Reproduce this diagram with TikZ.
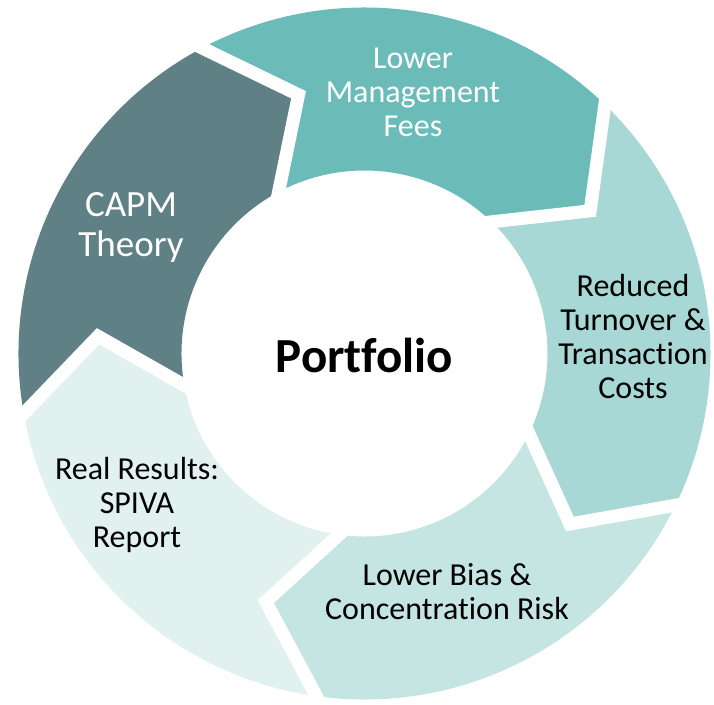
\documentclass[tikz,border=0pt]{standalone}
\usepackage{fontspec}
\setmainfont{Carlito}[Ligatures=NoCommon]
\usetikzlibrary{calc}
\definecolor{cCapm}{HTML}{5F8085}
\definecolor{cFees}{HTML}{6BBCB8}
\definecolor{cTurn}{HTML}{A7D8D5}
\definecolor{cBias}{HTML}{C5E5E3}
\definecolor{cSpiva}{HTML}{E1F1F0}
\newcommand\Rout{346}
\newcommand\Rin{183}
\newcommand\Rmid{267}
\newcommand\aOff{13.7}
\newcommand\ringseg[3]{%
  \fill[#3] (#1:\Rout pt) arc[start angle=#1, end angle=#2, radius=\Rout pt]
    -- ({#2-\aOff}:\Rmid pt) -- (#2:\Rin pt)
    arc[start angle=#2, end angle=#1, radius=\Rin pt]
    -- ({#1-\aOff}:\Rmid pt) -- cycle;}
\newcommand\gapcut[2]{%
  \coordinate (#2O) at (#1:\Rout pt);
  \coordinate (#2T) at ({#1-\aOff}:\Rmid pt);
  \coordinate (#2I) at (#1:\Rin pt);
  \draw[gapstyle] ($(#2O)!-0.25!(#2T)$) -- (#2T) -- ($(#2I)!-0.3!(#2T)$);}
\tikzset{
  gapstyle/.style={white, line width=13pt, line join=miter, miter limit=10},
  lbl/.style={align=center, font=\fontsize{32}{34}\selectfont, text=black},
  lblw/.style={lbl, text=white},
}
\begin{document}
\begin{tikzpicture}[x=1pt,y=1pt]
\useasboundingbox[fill=white] (-364.5,-350.5) rectangle (349.5,353.5);
\ringseg{118}{46}{cFees}
\ringseg{46}{-26}{cTurn}
\ringseg{-26}{-98}{cBias}
\ringseg{-98}{-170}{cSpiva}
\ringseg{190}{118}{cCapm}
\gapcut{118}{a}
\gapcut{46}{b}
\gapcut{-26}{c}
\gapcut{-98}{d}
\gapcut{190}{e}
\node[lblw] (fees) at (48.5,261.5) {Lower\\Management\\Fees};
\node[lblw, font=\fontsize{37}{40}\selectfont] (capm) at (-233.5,126.5) {CAPM\\Theory};
\node[lbl] (turn) at (268.5,16.5) {Reduced\\Turnover \&\\Transaction\\Costs};
\node[lbl] (bias) at (82.5,-238.5) {Lower Bias \&\\Concentration Risk};
\node[lbl] (spiva) at (-227.5,-151.5) {Real Results:\\SPIVA\\Report};
\node[font=\fontsize{49}{52}\selectfont\bfseries] (port) at (0,-1.5) {Portfolio};
\end{tikzpicture}
\end{document}
